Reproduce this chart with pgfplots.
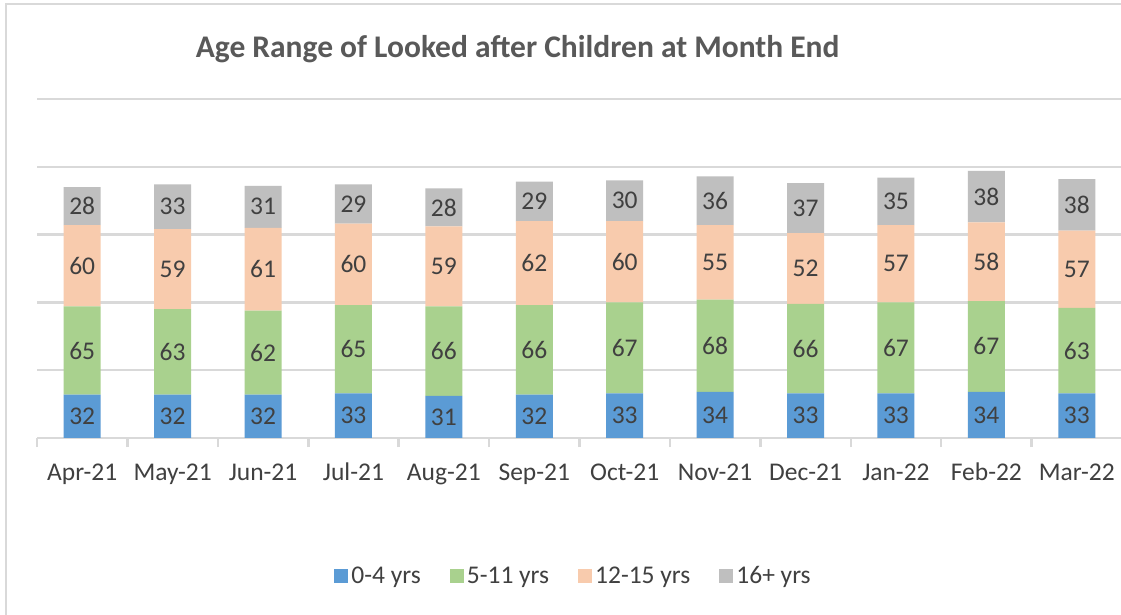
\documentclass[border=0pt]{standalone}
\usepackage{pgfplots}
\pgfplotsset{compat=1.18}
\usepackage{fontspec}
\setmainfont{Carlito}
\definecolor{cBlue}{HTML}{5B9BD5}
\definecolor{cGreen}{HTML}{A9D18E}
\definecolor{cPeach}{HTML}{F8CBAD}
\definecolor{cGray}{HTML}{BFBFBF}
\definecolor{gridc}{HTML}{D9D9D9}
\definecolor{txt}{HTML}{404040}
\definecolor{ttl}{HTML}{595959}
\begin{document}
\begin{tikzpicture}
\useasboundingbox (0,0) rectangle (1121bp,615bp);
\fill[white] (0,0) rectangle (1121bp,615bp);
\draw[gridc, line width=2.5bp] (6bp,0) -- (6bp,611bp) -- (1121bp,611bp);
\begin{axis}[
  at={(37bp,177bp)}, anchor=south west,
  scale only axis, width=1085bp, height=339bp,
  ybar stacked, bar width=37bp,
  xmin=-0.5, xmax=11.5, ymin=0, ymax=250,
  xtick={0,...,11},
  xticklabels={Apr-21,May-21,Jun-21,Jul-21,Aug-21,Sep-21,Oct-21,Nov-21,Dec-21,Jan-22,Feb-22,Mar-22},
  minor xtick={-0.5,0.5,...,11.5},
  major tick length=0pt, minor tick length=9bp, tick align=outside,
  minor tick style={gridc, line width=2.5bp},
  ytick={0,50,...,250}, yticklabels={},
  ymajorgrids, grid style={gridc, line width=2.5bp},
  axis x line*=bottom, axis y line*=left,
  x axis line style={gridc, line width=2.5bp, -},
  y axis line style={draw=none},
  /pgf/number format/assume math mode=true,
  xticklabel style={anchor=base, yshift=-42bp, font=\fontsize{25.5bp}{30bp}\selectfont, text=txt},
  title={Age Range of Looked after Children at Month End},
  title style={at={(0.443,1.13)}, anchor=center, font=\fontsize{31.5bp}{36bp}\selectfont\bfseries, text=ttl},
  nodes near coords,
  every node near coord/.append style={anchor=center, font=\fontsize{25.5bp}{30bp}\selectfont, text=txt},
  legend columns=4,
  legend style={at={(0.495,-0.407)}, anchor=center, draw=none, fill=none,
    font=\fontsize{25.5bp}{30bp}\selectfont, text=txt,
    nodes={inner xsep=3bp},
    /tikz/every even column/.append style={column sep=26bp}},
  legend image code/.code={\fill[#1] (0bp,-7bp) rectangle (14bp,7bp);},
]
\addplot[fill=cBlue, draw=none] coordinates {(0,32) (1,32) (2,32) (3,33) (4,31) (5,32) (6,33) (7,34) (8,33) (9,33) (10,34) (11,33)};
\addplot[fill=cGreen, draw=none] coordinates {(0,65) (1,63) (2,62) (3,65) (4,66) (5,66) (6,67) (7,68) (8,66) (9,67) (10,67) (11,63)};
\addplot[fill=cPeach, draw=none] coordinates {(0,60) (1,59) (2,61) (3,60) (4,59) (5,62) (6,60) (7,55) (8,52) (9,57) (10,58) (11,57)};
\addplot[fill=cGray, draw=none] coordinates {(0,28) (1,33) (2,31) (3,29) (4,28) (5,29) (6,30) (7,36) (8,37) (9,35) (10,38) (11,38)};
\legend{0-4 yrs, 5-11 yrs, 12-15 yrs, 16+ yrs}
\end{axis}
\end{tikzpicture}
\end{document}
